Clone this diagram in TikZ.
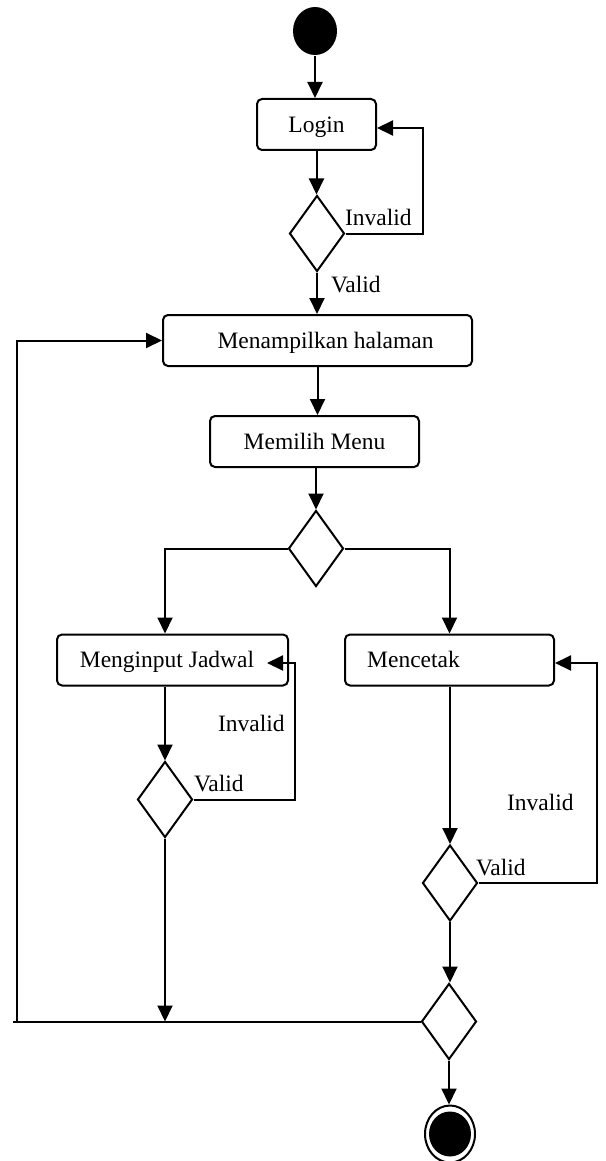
\documentclass[tikz,border=0pt]{standalone}
\usepackage{fontspec}
\setmainfont{Liberation Serif}
\usetikzlibrary{arrows.meta,shapes.geometric}
\begin{document}
\begin{tikzpicture}[x=1pt,y=-1pt,line width=2pt,
  txt/.style={font=\fontsize{23.5}{28}\selectfont},
  act/.style={txt,draw,rounded corners=5pt,minimum height=51pt,inner sep=0pt,
    text height=15.5pt,text depth=0pt},
  dec/.style={draw,diamond,minimum width=55pt,minimum height=76pt,inner sep=0pt},
  arr/.style={-{Triangle[length=16pt,width=15pt]}},
  lbl/.style={txt,inner sep=0pt,anchor=base west}]
\useasboundingbox (0,0) rectangle (605,1161);

% activities and decisions
\node[ellipse,fill=black,minimum width=44pt,minimum height=48pt,inner sep=0pt] (start) at (315,31) {};
\node[act,minimum width=119pt] (login) at (316.5,124.5) {Login};
\node[dec] (d1) at (317,233.5) {};
\node[act,minimum width=309pt] (show) at (317.5,340.5) {\hspace*{16pt}Menampilkan halaman};
\node[act,minimum width=209pt] (pick) at (314.5,441.5) {Memilih Menu};
\node[dec] (d2) at (316,548.5) {};
\node[act,minimum width=231pt] (input) at (172.5,660) {Menginput Jadwal\hspace*{11pt}};
\node[act,minimum width=209pt] (print) at (449.5,660) {Mencetak\hspace*{72pt}};
\node[dec] (d3) at (165,799.5) {};
\node[dec] (d4) at (450,883) {};
\node[dec] (d5) at (449,1021.5) {};
\node[ellipse,draw,minimum width=50pt,minimum height=57pt,inner sep=0pt] (stop) at (450,1134) {};
\node[ellipse,fill=black,minimum width=42pt,minimum height=45pt,inner sep=0pt] (stopdot) at (stop.center) {};

% guard labels
\node[lbl] (inv1) at (344,225) {Invalid};
\node[lbl] (val1) at (330,292) {Valid};
\node[lbl] (inv2) at (217,731) {Invalid};
\node[lbl] (val2) at (193,791) {Valid};
\node[lbl] (inv3) at (506,810) {Invalid};
\node[lbl] (val3) at (475,875) {Valid};

% bend points of the return paths
\coordinate (loop1) at (423,128);
\coordinate (loop2) at (295,663);
\coordinate (tip2) at (267,663);
\coordinate (loop3) at (597,663);
\coordinate (rail) at (17,1021.5);
\coordinate (railend) at (13,1021.5);

% main flow
\draw[arr] (start.south) -- (start.south |- login.north);
\draw[arr] (login.south) -- (login.south |- d1.north);
\draw[arr] (d1.east) -| (loop1) -- (login.east |- loop1);
\draw[arr] (d1.south) -- (d1.south |- show.north);
\draw[arr] (show.south) -- (show.south |- pick.north);
\draw[arr] (d2.north |- pick.south) -- (d2.north);
\draw[arr] (d2.west) -| (d3.north |- input.north);
\draw[arr] (d2.east) -| (print.north);

% left branch
\draw[arr] (d3.north |- input.south) -- (d3.north);
\draw[arr] (d3.east) -| (loop2) -- (tip2);
\draw[arr] (d3.south) -- (d3.south |- d5.west);

% right branch
\draw[arr] (d4.north |- print.south) -- (d4.north);
\draw[arr] (d4.east) -| (loop3) -- (print.east |- loop3);
\draw[arr] (d4.south) -- (d4.south |- d5.north);

% merge, return and end
\draw (d5.west) -- (railend);
\draw[arr] (rail) |- (show.west);
\draw[arr] (d5.south) -- (d5.south |- stop.north);
\end{tikzpicture}
\end{document}
